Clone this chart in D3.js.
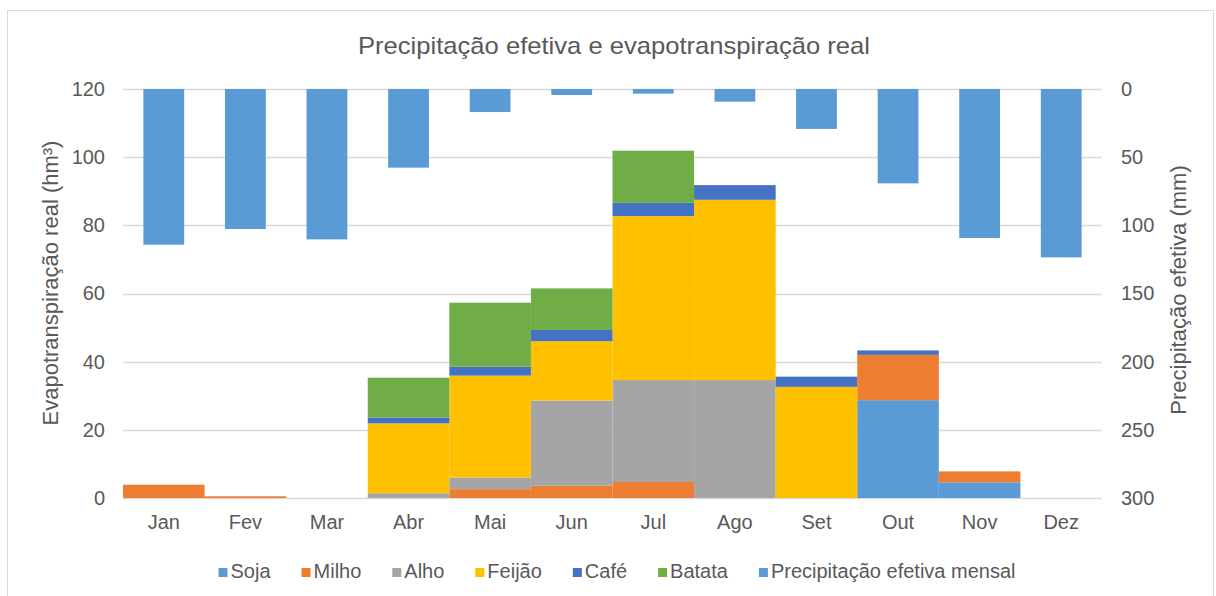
<!DOCTYPE html>
<html>
<head>
<meta charset="utf-8">
<script src="https://cdn.jsdelivr.net/npm/d3@7"></script>
<style>
  html, body { margin: 0; padding: 0; background: #fff; }
  svg text { font-family: "Liberation Sans", Arial, sans-serif; fill: #595959; }
</style>
</head>
<body>
<svg id="chart" width="1216" height="596"></svg>
<script>
const months = ["Jan","Fev","Mar","Abr","Mai","Jun","Jul","Ago","Set","Out","Nov","Dez"];
const soja   = [0, 0, 0, 0, 0, 0, 0, 0, 0, 28.7, 4.6, 0];
const milho  = [3.9, 0.5, 0, 0, 2.6, 3.6, 4.7, 0, 0, 13.3, 3.2, 0];
const alho   = [0, 0, 0, 1.4, 3.4, 25.0, 29.9, 34.6, 0, 0, 0, 0];
const feijao = [0, 0, 0, 20.5, 29.9, 17.4, 48.1, 52.9, 32.6, 0, 0, 0];
const cafe   = [0, 0, 0, 1.7, 2.6, 3.3, 3.9, 4.3, 3.0, 1.3, 0, 0];
const batata = [0, 0, 0, 11.7, 18.8, 12.2, 15.3, 0, 0, 0, 0, 0];
const precipitacao = [114.2, 102.7, 110.3, 57.7, 16.9, 4.4, 3.4, 9.3, 29.3, 69.2, 109.3, 123.5];
const leftTicks = [0, 20, 40, 60, 80, 100, 120];
const rightTicks = [0, 50, 100, 150, 200, 250, 300];

const seriesNames = ["Soja", "Milho", "Alho", "Feijão", "Café", "Batata"];
const seriesData = [soja, milho, alho, feijao, cafe, batata];
const colors = ["#5B9BD5", "#ED7D31", "#A5A5A5", "#FFC000", "#4472C4", "#70AD47"];
const precipName = "Precipitação efetiva mensal";
const precipColor = "#5B9BD5";

const svg = d3.select("#chart");
const L = 123, R = 1102, T = 89, B = 498;

// outer chart border
svg.append("rect").attr("x", 7.5).attr("y", 10.5).attr("width", 1206).attr("height", 600)
  .attr("fill", "none").attr("stroke", "#d9d9d9").attr("stroke-width", 1);

const x = d3.scaleBand().domain(months).range([L, R]).padding(0);
const yL = d3.scaleLinear().domain([0, 120]).range([B, T]);
const yR = d3.scaleLinear().domain([0, 300]).range([T, B]);

// gridlines
svg.append("g").selectAll("line").data(leftTicks).join("line")
  .attr("x1", L).attr("x2", R)
  .attr("y1", d => Math.round(yL(d)) + 0.5).attr("y2", d => Math.round(yL(d)) + 0.5)
  .attr("stroke", "#d9d9d9").attr("stroke-width", 1.5);

// stacked data
const table = months.map((m, i) => {
  const o = { month: m };
  seriesNames.forEach((n, k) => o[n] = seriesData[k][i]);
  return o;
});
const stack = d3.stack().keys(seriesNames)(table);

const gStack = svg.append("g");
stack.forEach((layer, k) => {
  gStack.append("g").attr("fill", colors[k]).selectAll("rect")
    .data(layer.filter(d => d[1] - d[0] > 0))
    .join("rect")
    .attr("x", d => x(d.data.month))
    .attr("width", x.bandwidth())
    .attr("y", d => yL(d[1]))
    .attr("height", d => yL(d[0]) - yL(d[1]));
});

// precipitation bars (secondary axis, reversed)
const bw = x.bandwidth() * 0.5;
svg.append("g").attr("fill", precipColor).selectAll("rect")
  .data(months.map((m, i) => ({ m, v: precipitacao[i] })))
  .join("rect")
  .attr("x", d => x(d.m) + (x.bandwidth() - bw) / 2)
  .attr("width", bw)
  .attr("y", yR(0))
  .attr("height", d => yR(d.v) - yR(0));

// axes
const fs = 20;
const axL = svg.append("g").attr("transform", `translate(${L},0)`)
  .call(d3.axisLeft(yL).tickValues(leftTicks).tickSize(0).tickPadding(18));
const axR = svg.append("g").attr("transform", `translate(${R},0)`)
  .call(d3.axisRight(yR).tickValues(rightTicks).tickSize(0).tickPadding(19));
const axB = svg.append("g").attr("transform", `translate(0,${B})`)
  .call(d3.axisBottom(x).tickSize(0).tickPadding(17));
[axL, axR, axB].forEach(a => {
  a.select(".domain").remove();
  a.selectAll("text").attr("font-size", fs).attr("fill", "#595959")
    .style("font-family", '"Liberation Sans", Arial, sans-serif');
});

// title
svg.append("text").attr("x", 614).attr("y", 54).attr("text-anchor", "middle")
  .attr("font-size", 24).attr("textLength", 512).attr("lengthAdjust", "spacingAndGlyphs")
  .text("Precipitação efetiva e evapotranspiração real");

// axis titles
svg.append("text").attr("transform", `translate(58,283) rotate(-90)`)
  .attr("text-anchor", "middle").attr("font-size", 22)
  .text("Evapotranspiração real (hm³)");
svg.append("text").attr("transform", `translate(1186,290) rotate(-90)`)
  .attr("text-anchor", "middle").attr("font-size", 22)
  .text("Precipitação efetiva (mm)");

// legend
const legNames = seriesNames.concat([precipName]);
const legColors = colors.concat([precipColor]);
const leg = svg.append("g");
const items = leg.selectAll("g").data(legNames).join("g");
items.append("rect").attr("width", 9).attr("height", 9).attr("y", -10)
  .attr("fill", (d, i) => legColors[i]);
items.append("text").attr("x", 12).attr("y", 0).attr("font-size", 20).text(d => d);
let cx = 0;
const gap = 31;
items.each(function () {
  const w = d3.select(this).select("text").node().getComputedTextLength() + 12;
  d3.select(this).attr("transform", `translate(${cx},0)`);
  cx += w + gap;
});
const totalW = cx - gap;
leg.attr("transform", `translate(${617 - totalW / 2},578)`);
</script>
</body>
</html>
